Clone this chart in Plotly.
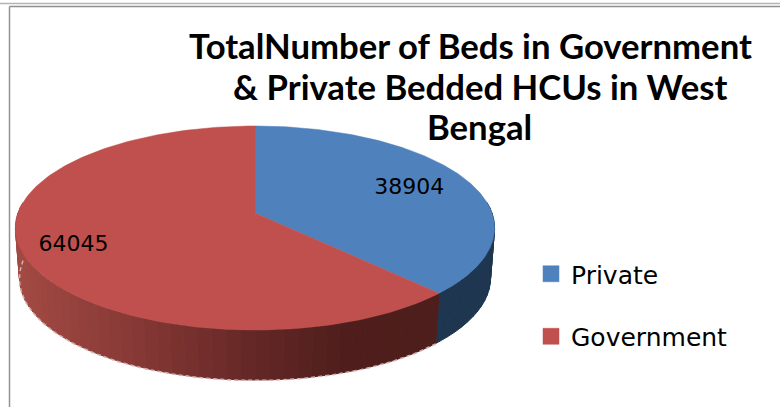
import numpy as np
import plotly.graph_objects as go

categories = ["Private", "Government"]
values = [38904, 64045]
colors = ["#4F81BD", "#C0504D"]
title_lines = ["TotalNumber of Beds in Government", "&amp; Private Bedded HCUs in West", "Bengal"]
label_radius = [0.73, 0.79]

W, H = 780, 407
CX, R_TOP, R_BOT, DEPTH = 255.0, 237.0, 233.0, 50.0
PA, PB, PC = -68.5, 213.0, 0.147
TITLE_LINE_X, TITLE_LINE_Y = [470, 480, 479], [45, 86, 126]


def project(theta, r=1.0, radius=R_TOP, drop=0.0):
    """Clockwise-from-top disc angle (deg) to picture position, tilted with perspective."""
    t = np.radians(theta)
    dx, dy = r * np.sin(t), r * np.cos(t)
    d = 1 + PC * dy
    return CX + radius * dx / d, (PA * dy + PB) / d + drop


def mix(stops, f):
    pos = [s[0] for s in stops]
    return "rgb(%d,%d,%d)" % tuple(np.interp(f, pos, [s[1][k] for s in stops]) for k in range(3))


fractions = np.array(values) / sum(values)
ends = np.cumsum(fractions) * 360
starts = np.concatenate([[0], ends[:-1]])

fig = go.Figure()

# side wall, in thin strips
red_stops = [(18, (163, 74, 68)), (130, (136, 58, 54)), (250, (101, 40, 38)), (340, (80, 31, 29)), (440, (77, 30, 27))]
wall_edges = np.arange(84, 279, 3.0)
wall_edges = np.unique(np.concatenate([wall_edges, [ends[0]]]))
for a, b in zip(wall_edges[:-1], wall_edges[1:]):
    xt, yt = project(np.array([a, b]))
    xb, yb = project(np.array([b, a]), radius=R_BOT, drop=DEPTH)
    col = "rgb(31,54,80)" if b <= ends[0] else mix(red_stops, float(xt.mean()))
    fig.add_trace(go.Scatter(x=list(xt) + list(xb) + [xt[0]], y=list(yt) + list(yb) + [yt[0]],
                             mode="lines", fill="toself", fillcolor=col,
                             line=dict(color=col, width=1), showlegend=False, hoverinfo="skip"))

# faint blurred lower rim
th = np.linspace(ends[0], 272, 120)
xr, yr = project(th, radius=R_BOT, drop=DEPTH + 0.5)
fig.add_trace(go.Scatter(x=xr, y=yr, mode="lines", line=dict(color="#D3B0AE", width=1.5, dash="4px,3px"),
                         showlegend=False, hoverinfo="skip"))

# top faces
for i in range(2):
    th = np.linspace(starts[i], ends[i], 220)
    xs, ys = project(th)
    cx0, cy0 = project(0.0, r=0.0)
    fig.add_trace(go.Scatter(x=[cx0] + list(xs) + [cx0], y=[cy0] + list(ys) + [cy0],
                             mode="lines", fill="toself", fillcolor=colors[i],
                             line=dict(color=colors[i], width=0.5), showlegend=False, hoverinfo="skip"))

# data labels
mids = (starts + ends) / 2
lx, ly = zip(*[project(m, r=r, drop=2.0) for m, r in zip(mids, label_radius)])
fig.add_trace(go.Scatter(x=lx, y=ly, mode="text", text=[str(v) for v in values], textposition="middle center",
                         textfont=dict(family="DejaVu Sans", size=22, color="#000000"),
                         showlegend=False, hoverinfo="skip"))

# legend
for i in range(2):
    fig.add_trace(go.Scatter(x=[None], y=[None], mode="markers", name=categories[i], legendgroup=categories[i],
                             marker=dict(symbol="square", size=16, color=colors[i],
                                         line=dict(color=colors[i], width=0.5))))

# window frame
frame = [(0, 3.5, W, 3.5, "#B4B4B4", 1.5), (9.5, 6.5, W, 6.5, "#8E8E8E", 1.5), (9.5, 6.5, 9.5, H, "#939393", 1.5)]
shapes = [dict(type="line", xref="x", yref="y", x0=a, y0=b, x1=c, y1=d, line=dict(color=e, width=f))
          for a, b, c, d, e, f in frame]

title_annotations = [dict(text=t, x=x, y=y, xref="x", yref="y", xanchor="center", yanchor="middle",
                          showarrow=False, font=dict(family="Lato", size=34.7, color="#000000", weight="bold"))
                     for t, x, y in zip(title_lines, TITLE_LINE_X, TITLE_LINE_Y)]

fig.update_layout(
    width=W, height=H, autosize=False,
    margin=dict(l=0, r=0, t=0, b=0),
    paper_bgcolor="white", plot_bgcolor="white",
    xaxis=dict(range=[0, W], visible=False, fixedrange=True),
    yaxis=dict(range=[H, 0], visible=False, fixedrange=True),
    shapes=shapes,
    annotations=title_annotations,
    legend=dict(x=531 / W, xanchor="left", y=1 - 251 / H, yanchor="top", tracegroupgap=27,
                bgcolor="rgba(0,0,0,0)", itemsizing="trace",
                font=dict(family="DejaVu Sans", size=25, color="#000000")),
)
fig.write_html("out.html", config=dict(displayModeBar=False),
               post_script="document.body.style.margin='0';document.body.style.overflow='hidden';")
